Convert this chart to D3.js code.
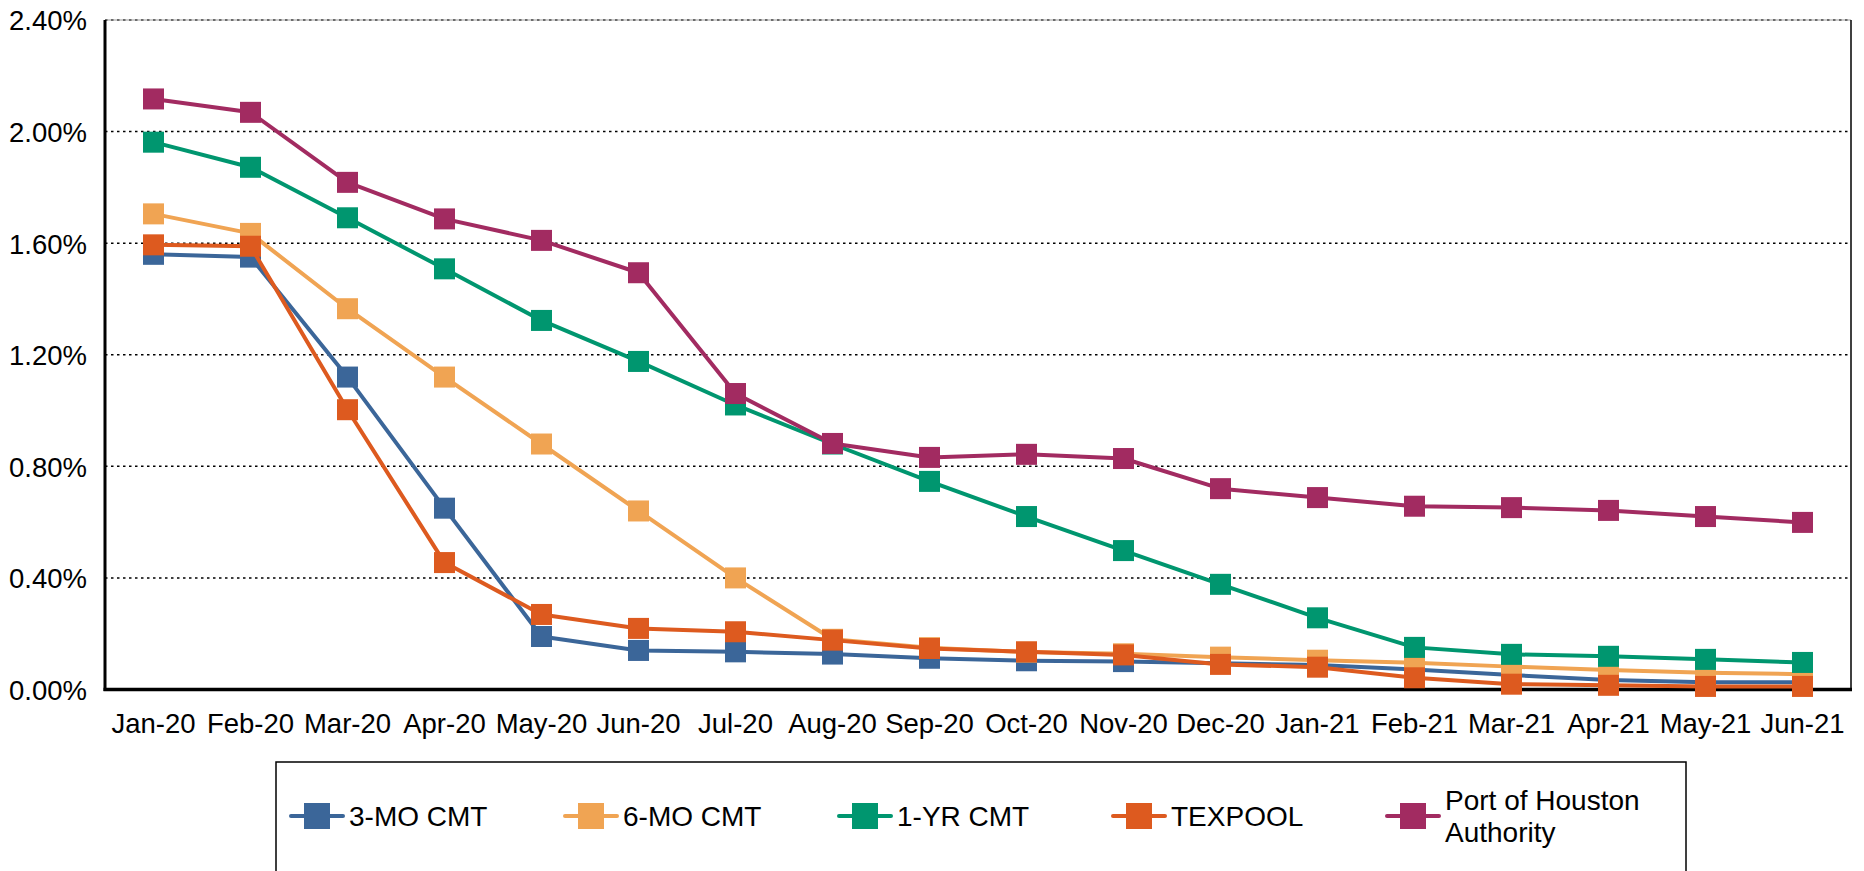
<!DOCTYPE html>
<html>
<head>
<meta charset="utf-8">
<script src="https://cdn.jsdelivr.net/npm/d3@7"></script>
<style>
	html, body { margin: 0; padding: 0; background: #fff; }
	svg text { font-family: "Liberation Sans", Arial, sans-serif; fill: #000; }
</style>
</head>
<body>
<div id="vis"></div>
<script>

var months = ["Jan-20","Feb-20","Mar-20","Apr-20","May-20","Jun-20","Jul-20","Aug-20","Sep-20",
	"Oct-20","Nov-20","Dec-20","Jan-21","Feb-21","Mar-21","Apr-21","May-21","Jun-21"];

var threeMo = [1.56,1.55,1.12,0.65,0.19,0.14,0.135,0.127,0.112,0.103,0.100,0.094,0.088,0.072,0.052,0.034,0.026,0.026];
var sixMo   = [1.705,1.635,1.365,1.12,0.88,0.64,0.40,0.18,0.15,0.134,0.128,0.116,0.105,0.096,0.082,0.070,0.060,0.055];
var oneYr   = [1.962,1.872,1.691,1.508,1.323,1.176,1.02,0.88,0.746,0.62,0.498,0.377,0.257,0.151,0.126,0.119,0.108,0.097];
var texpool = [1.594,1.589,1.003,0.455,0.269,0.219,0.207,0.177,0.147,0.135,0.124,0.090,0.080,0.042,0.019,0.015,0.011,0.011];
var port    = [2.117,2.069,1.818,1.687,1.61,1.494,1.061,0.882,0.832,0.843,0.828,0.720,0.688,0.657,0.652,0.642,0.620,0.599];

var seriesNames  = ["3-MO CMT","6-MO CMT","1-YR CMT","TEXPOOL","Port of Houston Authority"];
var seriesColors = ["#3b6699","#f0a453","#00966f","#dd5a1f","#a22b61"];
var yTicks = [0, 0.4, 0.8, 1.2, 1.6, 2.0, 2.4];

var series = [threeMo, sixMo, oneYr, texpool, port].map(function (v, i) {
	return {name: seriesNames[i], color: seriesColors[i], values: v};
});

var w = 1864, h = 871;
var m = {left: 105, right: 13, top: 20, bottom: 182};
var fontSize = 27.5;

var svg = d3.select("#vis").append("svg")
	.attr("width", w)
	.attr("height", h);

var x = d3.scaleBand()
	.domain(months)
	.range([m.left, w - m.right]);

var y = d3.scaleLinear()
	.domain([0, 2.4])
	.range([h - m.bottom + 0.5, m.top]);

var cx = function (d, i) { return x(months[i]) + x.bandwidth()/2 };

// gridlines
svg.append("g")
	.selectAll("line")
	.data(yTicks.slice(1))
	.enter()
	.append("line")
	.attr("x1", m.left)
	.attr("x2", w - m.right)
	.attr("y1", function (d) { return y(d) })
	.attr("y2", function (d) { return y(d) })
	.attr("stroke", "#000")
	.attr("stroke-width", 1.5)
	.attr("stroke-dasharray", "2.5,3.5");

svg.append("line")
	.attr("x1", m.left).attr("x2", w - m.right)
	.attr("y1", y(2.4)).attr("y2", y(2.4))
	.attr("stroke", "#999").attr("stroke-width", 1);

// right border
svg.append("line")
	.attr("x1", w - m.right).attr("x2", w - m.right)
	.attr("y1", y(2.4)).attr("y2", y(0))
	.attr("stroke", "#000").attr("stroke-width", 1.5);

// axes
var yAxis = svg.append("g")
	.attr("transform", "translate(" + m.left + ",0)")
	.call(d3.axisLeft(y).tickValues(yTicks).tickSize(0).tickPadding(18)
		.tickFormat(function (d) { return d3.format(".2f")(d) + "%" }));

var xAxis = svg.append("g")
	.attr("transform", "translate(0," + y(0) + ")")
	.call(d3.axisBottom(x).tickSize(0).tickPadding(24));

[yAxis, xAxis].forEach(function (g) {
	g.select(".domain").remove();
	g.selectAll("text")
		.attr("font-size", fontSize)
		.attr("font-family", "Liberation Sans, Arial, sans-serif")
		.attr("fill", "#000");
});
yAxis.selectAll("text").attr("dy", "0.36em");

svg.append("line")
	.attr("x1", m.left).attr("x2", m.left)
	.attr("y1", y(2.4)).attr("y2", y(0) + 1.5)
	.attr("stroke", "#000").attr("stroke-width", 3);

svg.append("line")
	.attr("x1", m.left - 1.5).attr("x2", w - m.right + 1)
	.attr("y1", y(0)).attr("y2", y(0))
	.attr("stroke", "#000").attr("stroke-width", 3.5);

// series
var line = d3.line()
	.x(cx)
	.y(function (d) { return y(d) });

var ms = 21;

var sg = svg.selectAll(".series")
	.data(series)
	.enter()
	.append("g")
	.attr("class", "series");

sg.append("path")
	.attr("d", function (d) { return line(d.values) })
	.attr("fill", "none")
	.attr("stroke", function (d) { return d.color })
	.attr("stroke-width", 4)
	.attr("stroke-linejoin", "round");

sg.each(function (s) {
	d3.select(this).selectAll("rect")
		.data(s.values)
		.enter()
		.append("rect")
		.attr("x", function (d, i) { return cx(d, i) - ms/2 })
		.attr("y", function (d) { return y(d) - ms/2 })
		.attr("width", ms)
		.attr("height", ms)
		.attr("fill", s.color);
});

// legend
var leg = {left: 276, top: 762, right: 1686, cy: 816, start: 317, step: 274};

svg.append("rect")
	.attr("x", leg.left)
	.attr("y", leg.top)
	.attr("width", leg.right - leg.left)
	.attr("height", h + 20 - leg.top)
	.attr("fill", "none")
	.attr("stroke", "#000")
	.attr("stroke-width", 1.5);

var li = svg.selectAll(".leg")
	.data(series)
	.enter()
	.append("g")
	.attr("class", "leg")
	.attr("transform", function (d, i) {
		return "translate(" + (leg.start + i*leg.step) + "," + leg.cy + ")";
	});

li.append("line")
	.attr("x1", -26).attr("x2", 26)
	.attr("stroke", function (d) { return d.color })
	.attr("stroke-width", 4)
	.attr("stroke-linecap", "round");

li.append("rect")
	.attr("x", -13).attr("y", -13)
	.attr("width", 26).attr("height", 26)
	.attr("fill", function (d) { return d.color });

li.append("text")
	.attr("transform", "translate(32,0)")
	.attr("font-size", 28)
	.each(function (d) {
		var words = d.name == "Port of Houston Authority" ? ["Port of Houston", "Authority"] : [d.name];
		var t = d3.select(this);
		words.forEach(function (wd, k) {
			t.append("tspan")
				.attr("x", 0)
				.attr("y", (k - (words.length - 1)/2) * 32)
				.attr("dy", "0.36em")
				.text(wd);
		});
	});

</script>
</body>
</html>
